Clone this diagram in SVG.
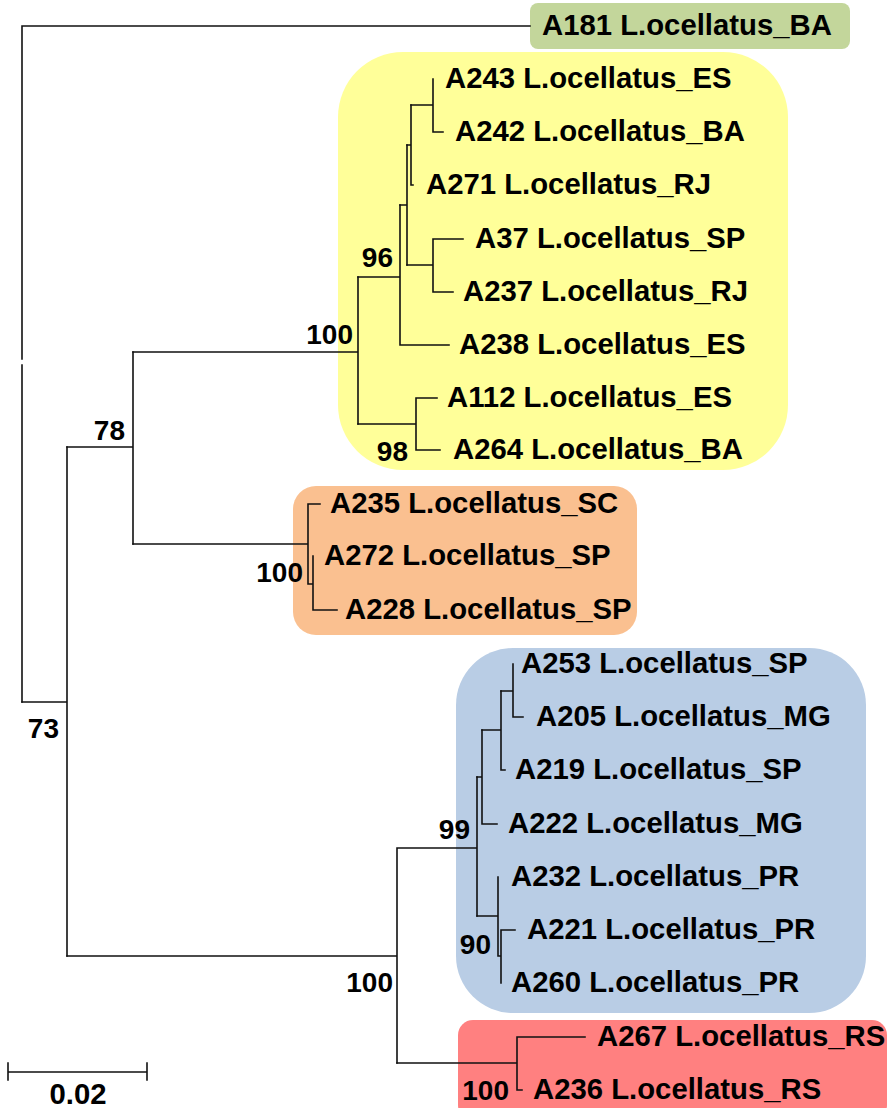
<svg xmlns="http://www.w3.org/2000/svg" width="890" height="1108" viewBox="0 0 890 1108">
<style>
.leaf{font-family:"Liberation Sans",Arial,sans-serif;font-weight:bold;font-size:29.3px;fill:#000}
.bs{font-family:"Liberation Sans",Arial,sans-serif;font-weight:bold;font-size:28px;fill:#000;text-anchor:end}
.br{fill:none;stroke:#111;stroke-width:1.6;stroke-linecap:square}
</style>
<rect width="890" height="1108" fill="#fff"/>
<g id="clades">
<rect id="clade-green" x="530" y="3" width="320" height="46" rx="8" fill="#c3d69b"/>
<rect id="clade-yellow" x="338" y="52" width="450" height="418" rx="65" fill="#ffff99"/>
<rect id="clade-orange" x="293" y="486" width="344" height="149" rx="23" fill="#fac090"/>
<rect id="clade-blue" x="456" y="648" width="410" height="365" rx="57" fill="#b9cde5"/>
<rect id="clade-red" x="458" y="1020" width="429" height="100" rx="15" fill="#ff8080"/>
</g>
<g id="connectors" class="br">
<path d="M22 26H530M22 26V359M22 365V702"/>
<path d="M22 702H67M67 447V956"/>
<path d="M67 447H133M133 352V544"/>
<path d="M133 352H358M358 277V424"/>
<path d="M358 277H400M400 205V345M400 345H449"/>
<path d="M400 205H407M407 145V265"/>
<path d="M407 145H411M411 105V185M411 185H413"/>
<path d="M411 105H433M433 79V132M433 132H443"/>
<path d="M407 265H433M433 239V292M433 239H463M433 292H453"/>
<path d="M358 424H416M416 398V450M416 398H437M416 450H440"/>
<path d="M133 544H308M308 504V584M308 504H320M308 584H313M313 556V610M313 610H337"/>
<path d="M67 956H397M397 848V1063M397 848H477M477 777V916"/>
<path d="M477 777H482M482 730V824M482 824H497"/>
<path d="M482 730H501M501 691V770M501 770H505"/>
<path d="M501 691H513M513 664V717M513 717H523"/>
<path d="M477 916H498M498 877V956M498 956H501M501 930V983M501 930H515"/>
<path d="M397 1063H517M517 1037V1090M517 1037H585M517 1090H522"/>
<path d="M8 1072H147M8 1063V1080M147 1063V1080"/>
</g>
<g id="leaves">
<g id="A181"><text class="leaf" x="542" y="35">A181 L.ocellatus_BA</text></g>
<g id="A243"><text class="leaf" x="445" y="88">A243 L.ocellatus_ES</text></g>
<g id="A242"><text class="leaf" x="455" y="141">A242 L.ocellatus_BA</text></g>
<g id="A271"><text class="leaf" x="426" y="194">A271 L.ocellatus_RJ</text></g>
<g id="A37"><text class="leaf" x="475" y="248">A37 L.ocellatus_SP</text></g>
<g id="A237"><text class="leaf" x="463" y="301">A237 L.ocellatus_RJ</text></g>
<g id="A238"><text class="leaf" x="459" y="354">A238 L.ocellatus_ES</text></g>
<g id="A112"><text class="leaf" x="447" y="407">A112 L.ocellatus_ES</text></g>
<g id="A264"><text class="leaf" x="453" y="459">A264 L.ocellatus_BA</text></g>
<g id="A235"><text class="leaf" x="330" y="513">A235 L.ocellatus_SC</text></g>
<g id="A272"><text class="leaf" x="324" y="565">A272 L.ocellatus_SP</text></g>
<g id="A228"><text class="leaf" x="345" y="619">A228 L.ocellatus_SP</text></g>
<g id="A253"><text class="leaf" x="521" y="673">A253 L.ocellatus_SP</text></g>
<g id="A205"><text class="leaf" x="536" y="726">A205 L.ocellatus_MG</text></g>
<g id="A219"><text class="leaf" x="515" y="779">A219 L.ocellatus_SP</text></g>
<g id="A222"><text class="leaf" x="508" y="833">A222 L.ocellatus_MG</text></g>
<g id="A232"><text class="leaf" x="511" y="886">A232 L.ocellatus_PR</text></g>
<g id="A221"><text class="leaf" x="527" y="939">A221 L.ocellatus_PR</text></g>
<g id="A260"><text class="leaf" x="511" y="992">A260 L.ocellatus_PR</text></g>
<g id="A267"><text class="leaf" x="597" y="1046">A267 L.ocellatus_RS</text></g>
<g id="A236"><text class="leaf" x="533" y="1099">A236 L.ocellatus_RS</text></g>
</g>
<g id="bootstrap">
<text class="bs" x="353" y="344">100</text>
<text class="bs" x="393" y="267">96</text>
<text class="bs" x="408" y="461">98</text>
<text class="bs" x="125" y="440">78</text>
<text class="bs" x="303" y="582">100</text>
<text class="bs" x="59" y="738">73</text>
<text class="bs" x="470" y="839">99</text>
<text class="bs" x="491" y="954">90</text>
<text class="bs" x="393" y="992">100</text>
<text class="bs" x="509" y="1100">100</text>
</g>
<g id="scale"><text class="leaf" x="78" y="1104" text-anchor="middle" font-size="26">0.02</text></g>
</svg>
